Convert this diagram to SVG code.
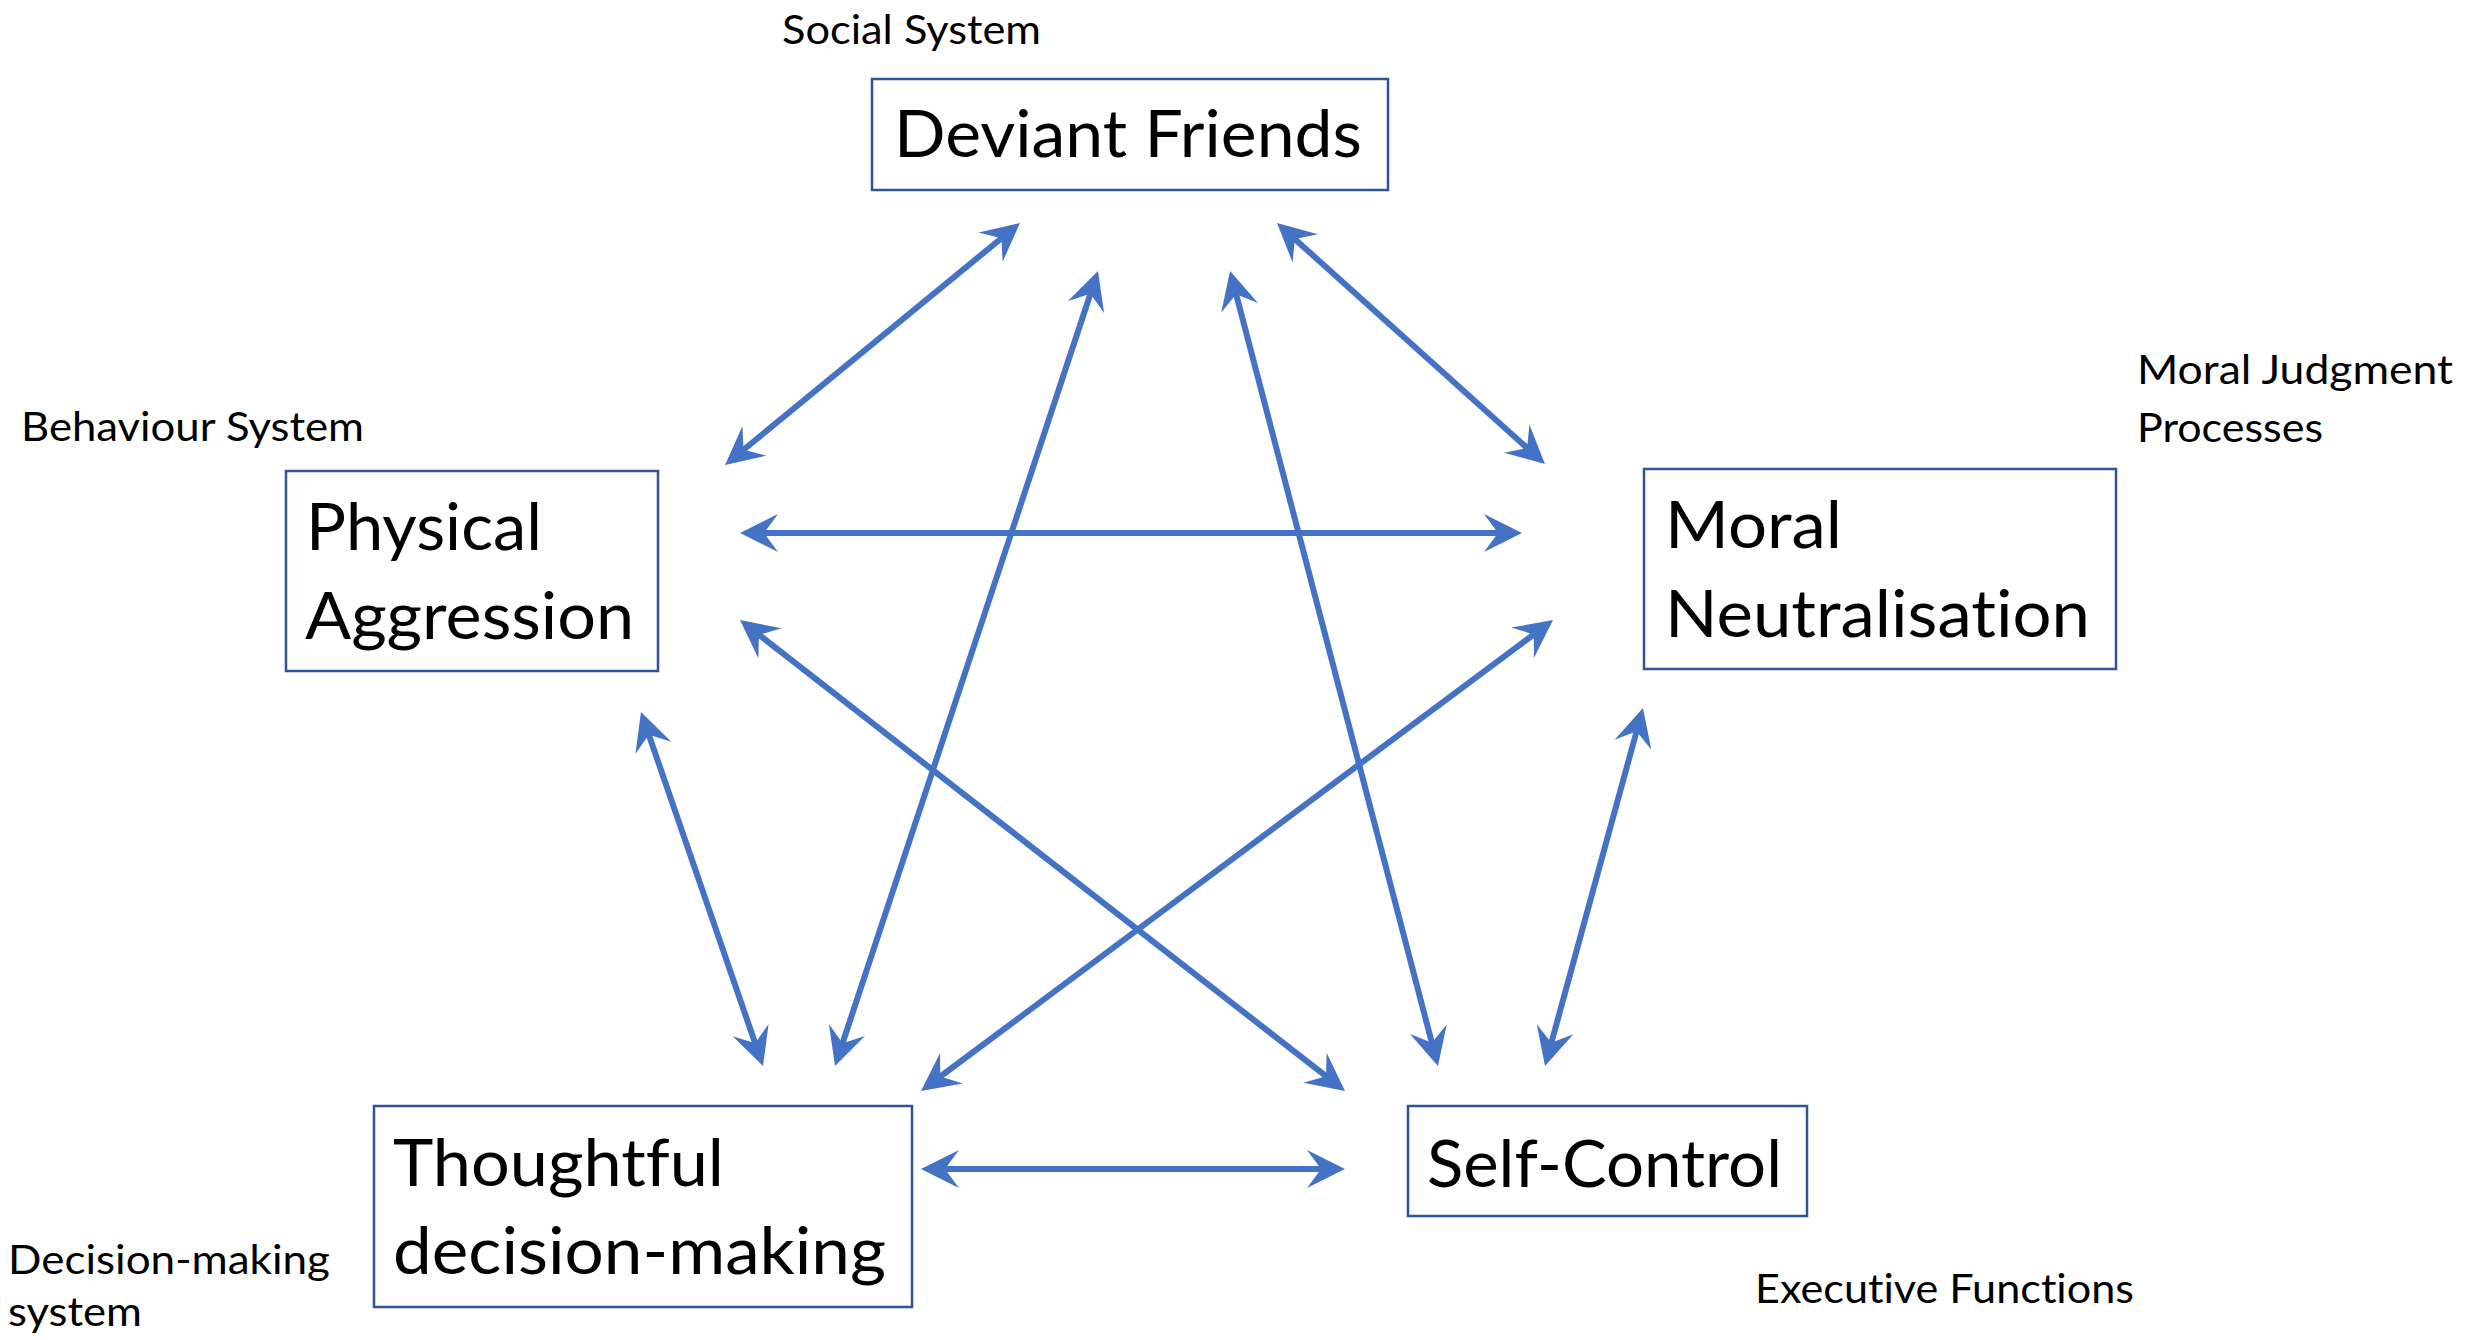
<svg xmlns="http://www.w3.org/2000/svg" width="2476" height="1340" viewBox="0 0 2476 1340">
<style>
text{font-variant-ligatures:none;font-feature-settings:"liga" 0,"clig" 0,"dlig" 0}
.box{fill:#ffffff;stroke:#2F5597;stroke-width:2.5}
.nt{font-family:Lato,"Open Sans","Liberation Sans",sans-serif;font-size:66px;fill:#000}
.lb{font-family:Lato,"Open Sans","Liberation Sans",sans-serif;font-size:40px;fill:#000}
.ar{stroke:#4472C4;stroke-width:6;fill:none;marker-start:url(#ah);marker-end:url(#ah)}
</style>
<defs>
<marker id="ah" markerUnits="userSpaceOnUse" viewBox="-20 -20 42 40" markerWidth="42" markerHeight="40" refX="0" refY="0" orient="auto-start-reverse" overflow="visible">
<path d="M20,0 L-18,-19 L-4,0 L-18,19 Z" fill="#4472C4"/>
</marker>
</defs>
<rect width="2476" height="1340" fill="#ffffff"/>
<g id="labels">
<text class="lb" x="782" y="44" textLength="259" lengthAdjust="spacingAndGlyphs">Social System</text>
<text class="lb" x="21" y="441" textLength="343" lengthAdjust="spacingAndGlyphs">Behaviour System</text>
<text class="lb" x="2137" y="384" textLength="316" lengthAdjust="spacingAndGlyphs">Moral Judgment</text>
<text class="lb" x="2137" y="442" textLength="186" lengthAdjust="spacingAndGlyphs">Processes</text>
<text class="lb" x="8" y="1274" textLength="322" lengthAdjust="spacingAndGlyphs">Decision-making</text>
<text class="lb" x="8" y="1326" textLength="134" lengthAdjust="spacingAndGlyphs">system</text>
<text class="lb" x="1755" y="1303" textLength="379" lengthAdjust="spacingAndGlyphs">Executive Functions</text>
</g>
<g id="node-deviant-friends">
<rect class="box" x="872" y="79" width="516" height="111"/>
<text class="nt" x="894" y="157" textLength="468" lengthAdjust="spacingAndGlyphs">Deviant Friends</text>
</g>
<g id="node-physical-aggression">
<rect class="box" x="286" y="471" width="372" height="200"/>
<text class="nt" x="306" y="550" textLength="236" lengthAdjust="spacingAndGlyphs">Physical</text>
<text class="nt" x="305" y="639" textLength="329" lengthAdjust="spacingAndGlyphs">Aggression</text>
</g>
<g id="node-moral-neutralisation">
<rect class="box" x="1644" y="469" width="472" height="200"/>
<text class="nt" x="1665" y="548" textLength="177" lengthAdjust="spacingAndGlyphs">Moral</text>
<text class="nt" x="1665" y="637" textLength="425" lengthAdjust="spacingAndGlyphs">Neutralisation</text>
</g>
<g id="node-thoughtful-decision-making">
<rect class="box" x="374" y="1106" width="538" height="201"/>
<text class="nt" x="393" y="1186" textLength="331" lengthAdjust="spacingAndGlyphs">Thoughtful</text>
<text class="nt" x="393" y="1274" textLength="493" lengthAdjust="spacingAndGlyphs">decision-making</text>
</g>
<g id="node-self-control">
<rect class="box" x="1408" y="1106" width="399" height="110"/>
<text class="nt" x="1427" y="1187" textLength="355" lengthAdjust="spacingAndGlyphs">Self-Control</text>
</g>
<g id="connectors">
<line class="ar" x1="1004.5" y1="235.7" x2="740.5" y2="452.3"/>
<line class="ar" x1="1291.9" y1="236.4" x2="1530.1" y2="450.6"/>
<line class="ar" x1="1091.7" y1="290.0" x2="841.3" y2="1047.0"/>
<line class="ar" x1="1235.1" y1="290.3" x2="1432.9" y2="1046.7"/>
<line class="ar" x1="760" y1="533" x2="1502" y2="533"/>
<line class="ar" x1="755.8" y1="632.3" x2="1329.2" y2="1078.7"/>
<line class="ar" x1="1537.0" y1="632.0" x2="937.0" y2="1079.0"/>
<line class="ar" x1="647.5" y1="730.9" x2="756.5" y2="1047.1"/>
<line class="ar" x1="1637.7" y1="727.3" x2="1550.3" y2="1046.7"/>
<line class="ar" x1="941" y1="1169" x2="1325" y2="1169"/>
</g>
</svg>
